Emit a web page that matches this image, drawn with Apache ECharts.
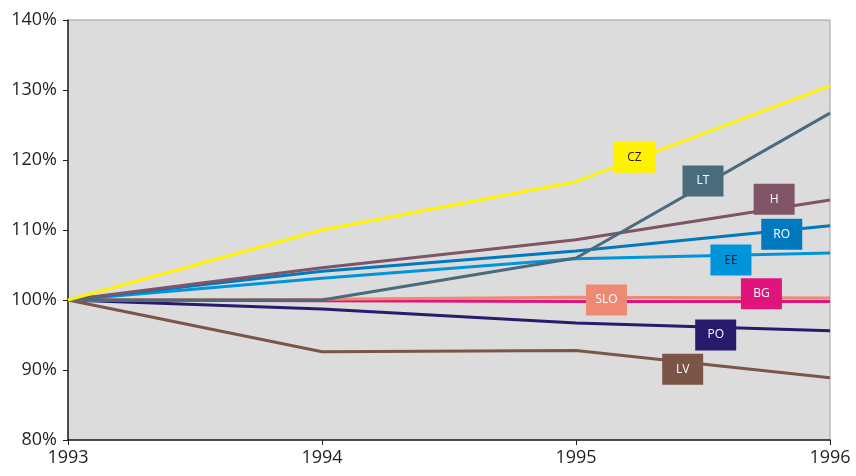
<!DOCTYPE html>
<html><head><meta charset="utf-8">
<script src="https://cdn.jsdelivr.net/npm/echarts@6/dist/echarts.min.js"></script>
<style>html,body{margin:0;padding:0;background:#fff}#c{width:856px;height:476px}</style>
</head><body><div id="c"></div>
<script>
const years = [1993, 1994, 1995, 1996];
const yTicks = [80, 90, 100, 110, 120, 130, 140];
const CZ  = [100, 110.0, 116.9, 130.6];
const LT  = [100, 100.0, 106.0, 126.7];
const H   = [100, 104.6, 108.6, 114.3];
const RO  = [100, 104.1, 107.0, 110.6];
const EE  = [100, 103.1, 105.9, 106.7];
const BG  = [100, 99.9, 99.8, 99.8];
const SLO = [100, 100.1, 100.4, 100.3];
const PO  = [100, 98.7, 96.7, 95.6];
const LV  = [100, 92.6, 92.8, 88.9];

// label box anchor positions (year, percent)
const labelPos = {
  CZ: [1995.23, 120.4], LT: [1995.50, 117.0], H: [1995.78, 114.4],
  RO: [1995.81, 109.4], EE: [1995.61, 105.7], SLO: [1995.12, 100.0],
  BG: [1995.73, 100.9], PO: [1995.55, 95.0], LV: [1995.42, 90.1]
};

const seriesDefs = [
  {name: 'LV', data: LV, color: '#7B5546', text: '#fff'},
  {name: 'PO', data: PO, color: '#2A1A6E', text: '#fff'},
  {name: 'BG', data: BG, color: '#E0147C', text: '#fff'},
  {name: 'SLO', data: SLO, color: '#EE8A73', text: '#fff'},
  {name: 'EE', data: EE, color: '#0095DA', text: '#231f20'},
  {name: 'RO', data: RO, color: '#0079BF', text: '#fff'},
  {name: 'H', data: H, color: '#7E5466', text: '#fff'},
  {name: 'LT', data: LT, color: '#4A6B7C', text: '#fff'},
  {name: 'CZ', data: CZ, color: '#FFF200', text: '#231f20'}
];

const chart = echarts.init(document.getElementById('c'));
chart.setOption({
  animation: false,
  grid: {left: 68, right: 26, top: 20, bottom: 36, show: true,
         backgroundColor: '#DCDCDC', borderColor: '#a0a0a0', borderWidth: 1},
  xAxis: {
    type: 'value', min: 1993, max: 1996, interval: 1,
    axisLine: {lineStyle: {color: '#231f20', width: 1.5}},
    axisTick: {show: true, length: 5, lineStyle: {color: '#231f20'}},
    splitLine: {show: false},
    axisLabel: {color: '#231f20', fontSize: 18, fontFamily: 'Open Sans', margin: 9,
      formatter: v => String(v)}
  },
  yAxis: {
    type: 'value', min: 80, max: 140, interval: 10,
    axisLine: {show: true, lineStyle: {color: '#231f20', width: 1.5}},
    axisTick: {show: true, length: 5, lineStyle: {color: '#231f20'}},
    splitLine: {show: false},
    axisLabel: {color: '#231f20', fontSize: 18, fontFamily: 'Open Sans', margin: 11,
      formatter: v => yTicks.includes(v) ? v + '%' : ''}
  },
  series: seriesDefs.map(s => ({
    name: s.name, type: 'line', symbol: 'none',
    data: s.data.map((v, i) => [years[i], v]),
    lineStyle: {color: s.color, width: 3},
    itemStyle: {color: s.color},
    markPoint: {
      symbol: 'rect', symbolSize: [41, 31], silent: true,
      itemStyle: {color: s.color},
      label: {show: true, position: 'inside', color: s.text, fontSize: 12,
        fontFamily: 'Open Sans', formatter: s.name},
      data: [{coord: labelPos[s.name]}]
    }
  }))
});
</script></body></html>
